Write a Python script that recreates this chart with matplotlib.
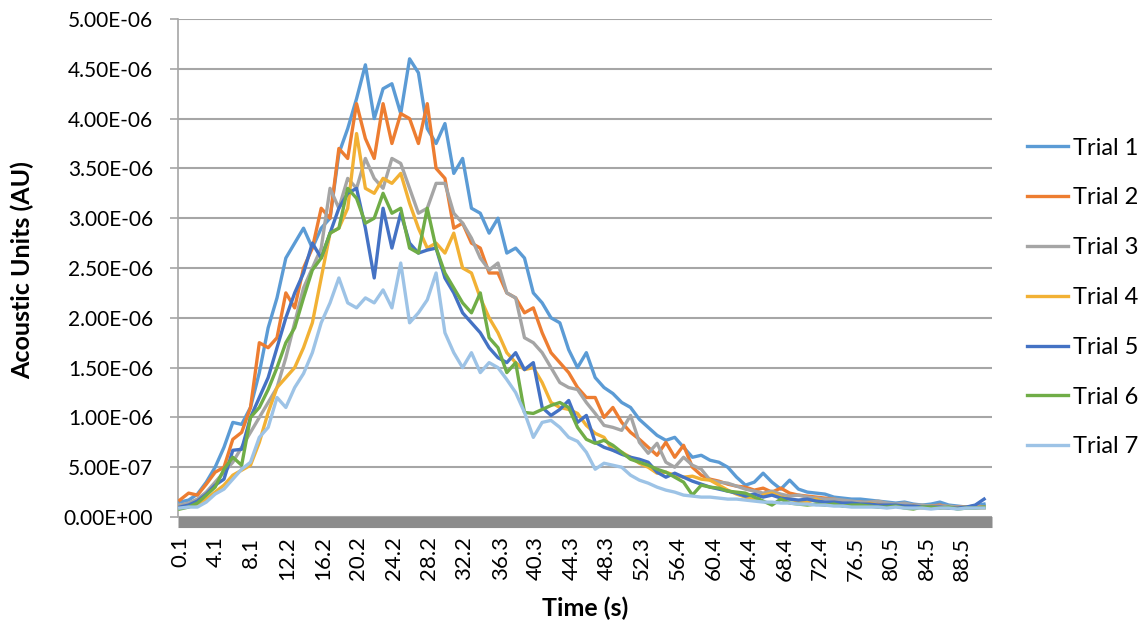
import matplotlib
matplotlib.use("Agg")
import matplotlib.pyplot as plt
import numpy as np

plt.rcParams['font.family'] = ['Lato', 'DejaVu Sans']

# time in seconds, one reading per second
times = np.arange(92)

# acoustic units, in 1e-7
trial1 = [1.5, 1.7, 2.3, 3.5, 5.0, 7.0, 9.5, 9.3, 11.0, 14.5,
          19.0, 22.0, 26.0, 27.5, 29.0, 27.0, 29.0, 30.0, 36.5, 39.0,
          42.0, 45.4, 40.0, 43.0, 43.5, 40.5, 46.0, 44.6, 39.0, 37.5,
          39.5, 34.5, 36.0, 31.0, 30.5, 28.5, 30.0, 26.5, 27.0, 26.0,
          22.5, 21.5, 20.0, 19.5, 16.8, 15.0, 16.5, 14.0, 13.0, 12.4,
          11.5, 11.0, 9.8, 9.0, 8.2, 7.7, 8.0, 7.0, 6.0, 6.2,
          5.7, 5.5, 5.0, 4.0, 3.2, 3.5, 4.4, 3.5, 2.8, 3.7,
          2.8, 2.5, 2.4, 2.3, 2.0, 1.9, 1.8, 1.8, 1.7, 1.6,
          1.5, 1.4, 1.5, 1.3, 1.2, 1.3, 1.5, 1.2, 1.1, 1.0,
          1.1, 1.3]
trial2 = [1.7, 2.4, 2.2, 3.3, 4.5, 5.0, 7.8, 8.5, 11.0, 17.5,
          17.0, 18.0, 22.5, 21.0, 25.0, 27.0, 31.0, 30.0, 37.0, 36.0,
          41.5, 38.0, 36.0, 41.5, 37.5, 40.5, 40.0, 37.5, 41.5, 35.0,
          34.0, 29.0, 29.5, 27.5, 27.0, 24.5, 24.5, 22.5, 22.0, 20.5,
          21.0, 18.5, 16.5, 15.5, 14.5, 13.0, 12.0, 12.0, 10.0, 11.0,
          9.5, 8.5, 7.8, 7.0, 6.2, 7.5, 6.0, 7.2, 5.0, 4.2,
          3.8, 3.6, 3.3, 3.1, 3.0, 2.7, 2.9, 2.5, 2.9, 2.4,
          2.2, 2.1, 2.0, 1.9, 1.8, 1.6, 1.5, 1.5, 1.4, 1.4,
          1.3, 1.2, 1.3, 1.2, 1.1, 1.1, 1.2, 1.0, 1.0, 1.0,
          1.1, 1.0]
trial3 = [1.2, 1.4, 1.8, 2.5, 3.5, 4.5, 5.5, 7.0, 8.5, 10.0,
          11.5, 13.0, 16.0, 19.5, 23.0, 25.0, 27.0, 33.0, 31.0, 34.0,
          33.0, 36.0, 34.0, 33.0, 36.0, 35.5, 33.0, 30.5, 31.0, 33.5,
          33.5, 30.5, 29.5, 28.0, 26.0, 24.8, 25.5, 22.5, 22.0, 18.0,
          17.5, 16.5, 15.0, 13.5, 13.0, 12.8, 11.5, 10.4, 9.2, 9.0,
          8.7, 10.2, 7.5, 6.4, 7.4, 5.5, 5.0, 6.0, 5.2, 4.8,
          3.7, 3.5, 3.4, 3.1, 2.8, 2.6, 2.4, 2.6, 2.3, 2.1,
          2.2, 2.0, 1.9, 1.8, 1.8, 1.7, 1.6, 1.5, 1.5, 1.6,
          1.4, 1.3, 1.4, 1.2, 1.2, 1.1, 1.1, 1.1, 1.0, 1.0,
          1.0, 1.0]
trial4 = [1.0, 1.1, 1.3, 1.8, 2.5, 3.2, 4.2, 4.7, 5.2, 7.5,
          10.5, 13.0, 14.0, 15.0, 17.0, 19.5, 24.0, 28.5, 29.0, 31.0,
          38.5, 33.0, 32.5, 34.0, 33.5, 34.5, 31.5, 29.0, 27.0, 27.5,
          26.5, 28.5, 25.0, 24.5, 22.0, 20.0, 18.5, 16.5, 15.5, 14.8,
          15.0, 13.5, 11.5, 11.0, 10.8, 10.4, 9.2, 8.4, 8.0, 6.7,
          6.5, 6.0, 5.4, 5.0, 4.4, 4.5, 4.2, 4.0, 4.1, 3.8,
          3.7, 3.2, 2.7, 2.3, 2.0, 1.7, 2.2, 2.4, 2.0, 1.8,
          1.6, 1.5, 1.8, 1.4, 1.4, 1.3, 1.3, 1.2, 1.4, 1.2,
          1.1, 1.1, 1.0, 1.1, 0.9, 1.0, 0.9, 0.9, 0.9, 1.0,
          0.9, 0.9]
trial5 = [1.0, 1.2, 1.6, 2.3, 3.2, 3.8, 6.7, 6.8, 10.0, 12.0,
          14.0, 17.0, 20.0, 22.5, 24.5, 27.5, 26.0, 28.5, 31.0, 32.5,
          33.0, 29.0, 24.0, 31.0, 27.0, 30.5, 27.5, 26.5, 26.8, 27.0,
          24.0, 22.5, 20.5, 19.5, 18.5, 17.0, 16.0, 15.5, 16.5, 14.8,
          15.5, 11.0, 10.2, 10.8, 11.7, 9.5, 10.2, 7.5, 7.0, 6.7,
          6.3, 6.0, 5.8, 5.5, 4.5, 4.0, 4.4, 4.0, 3.6, 3.3,
          3.0, 2.8, 2.6, 2.4, 2.1, 2.3, 2.0, 2.2, 1.9, 1.8,
          1.7, 1.8, 1.6, 1.5, 1.5, 1.4, 1.4, 1.3, 1.3, 1.2,
          1.2, 1.2, 1.1, 1.1, 1.0, 1.0, 1.0, 0.9, 0.9, 1.0,
          1.2, 1.8]
trial6 = [0.8, 1.0, 1.4, 2.2, 3.0, 4.8, 6.0, 5.2, 10.0, 11.0,
          12.8, 15.0, 17.5, 19.0, 22.0, 24.8, 26.0, 28.5, 29.0, 33.0,
          32.0, 29.5, 30.0, 32.5, 30.5, 31.0, 27.0, 26.5, 31.0, 27.0,
          24.5, 23.0, 21.5, 20.5, 22.5, 18.0, 17.0, 14.5, 15.5, 10.5,
          10.4, 10.8, 11.2, 11.5, 11.0, 9.0, 7.8, 7.4, 7.7, 7.2,
          6.5, 5.8, 5.5, 5.2, 4.8, 4.5, 4.0, 3.5, 2.2, 3.2,
          3.0, 2.9, 2.6, 2.5, 2.4, 2.0, 1.6, 1.2, 1.8, 1.4,
          1.3, 1.2, 1.3, 1.2, 1.3, 1.1, 1.2, 1.2, 1.1, 1.0,
          1.0, 1.1, 0.9, 0.8, 1.0, 1.0, 0.9, 1.0, 0.8, 0.9,
          0.9, 1.0]
trial7 = [0.9, 1.0, 1.0, 1.5, 2.3, 2.8, 3.8, 4.8, 5.5, 8.0,
          9.0, 12.0, 11.0, 13.0, 14.4, 16.5, 19.5, 21.5, 24.0, 21.5,
          21.0, 22.0, 21.5, 22.8, 21.0, 25.5, 19.5, 20.5, 21.8, 24.5,
          18.5, 16.5, 15.0, 16.5, 14.5, 15.5, 15.0, 13.8, 12.5, 10.5,
          8.0, 9.5, 9.7, 9.0, 8.0, 7.6, 6.5, 4.8, 5.4, 5.2,
          5.0, 4.2, 3.7, 3.4, 3.0, 2.7, 2.5, 2.2, 2.1, 2.0,
          2.0, 1.9, 1.8, 1.8, 1.7, 1.6, 1.5, 1.5, 1.4, 1.4,
          1.3, 1.3, 1.2, 1.2, 1.1, 1.1, 1.0, 1.0, 1.0, 1.0,
          0.9, 1.0, 0.9, 0.9, 0.9, 0.8, 0.9, 0.9, 0.8, 0.9,
          0.9, 0.9]

series_names = ['Trial 1', 'Trial 2', 'Trial 3', 'Trial 4', 'Trial 5', 'Trial 6', 'Trial 7']
series_colors = ['#5B9BD5', '#ED7D31', '#A5A5A5', '#F2B134', '#4472C4', '#70AD47', '#9DC3E6']

x_labels = ['0.1', '4.1', '8.1', '12.2', '16.2', '20.2', '24.2', '28.2', '32.2', '36.3',
            '40.3', '44.3', '48.3', '52.3', '56.4', '60.4', '64.4', '68.4', '72.4', '76.5',
            '80.5', '84.5', '88.5']
y_ticks = [0, 0.5e-6, 1.0e-6, 1.5e-6, 2.0e-6, 2.5e-6, 3.0e-6, 3.5e-6, 4.0e-6, 4.5e-6, 5.0e-6]
y_labels = ['0.00E+00', '5.00E-07', '1.00E-06', '1.50E-06', '2.00E-06', '2.50E-06',
            '3.00E-06', '3.50E-06', '4.00E-06', '4.50E-06', '5.00E-06']

all_trials = [trial1, trial2, trial3, trial4, trial5, trial6, trial7]

fig = plt.figure(figsize=(11.47, 6.27), dpi=100)
ax = fig.add_axes([0.1552, 0.1754, 0.7097, 0.7943])

for vals, name, col in zip(all_trials, series_names, series_colors):
    ax.plot(times, np.array(vals) * 1e-7, color=col, lw=2.4, label=name,
            solid_joinstyle='round', zorder=3)

ax.set_xlim(-0.2, 91.9)
ax.set_ylim(0, 5e-6)

ax.set_yticks(y_ticks)
ax.set_yticklabels(y_labels, fontsize=15)
ax.set_xticks([float(l) for l in x_labels])
ax.set_xticklabels(x_labels, rotation=90, fontsize=16)
ax.tick_params(axis='x', length=0, pad=14)
ax.tick_params(axis='y', length=6, width=1.2, color='#a6a6a6', pad=12)

ax.yaxis.grid(True, color='#a6a6a6', lw=1.5)
ax.set_axisbelow(True)
for s in ['top', 'right', 'bottom']:
    ax.spines[s].set_visible(False)
ax.spines['left'].set_color('#a6a6a6')
ax.spines['left'].set_linewidth(1.2)

# thick grey category axis
ax.axhline(-4.5e-8, color='#8c8c8c', lw=8, solid_capstyle='butt', clip_on=False, zorder=2)

fig.text(585 / 1147, 1 - 608 / 627, 'Time (s)', ha='center', va='center',
         fontsize=18, fontweight='bold')
fig.text(22 / 1147, 1 - 270 / 627, 'Acoustic Units (AU)', ha='center', va='center',
         rotation=90, fontsize=18, fontweight='bold')

# legend, rows ~50 px apart like the original
leg_fs = 17
leg_kw = dict(loc='center left', bbox_to_anchor=(1027 / 1147, 1 - 297.5 / 627),
              frameon=False, fontsize=leg_fs, handlelength=1.75, handletextpad=0.2,
              borderpad=0, borderaxespad=0)
spacing = 0.9
leg = fig.legend(labelspacing=spacing, **leg_kw)
for _ in range(3):
    fig.canvas.draw()
    ys = [t.get_window_extent().y0 for t in leg.get_texts()]
    gap = (ys[0] - ys[-1]) / 6.0
    spacing += (49.8 - gap) / (leg_fs * 100 / 72)
    leg.remove()
    leg = fig.legend(labelspacing=spacing, **leg_kw)

fig.savefig('out.png', dpi=100)
